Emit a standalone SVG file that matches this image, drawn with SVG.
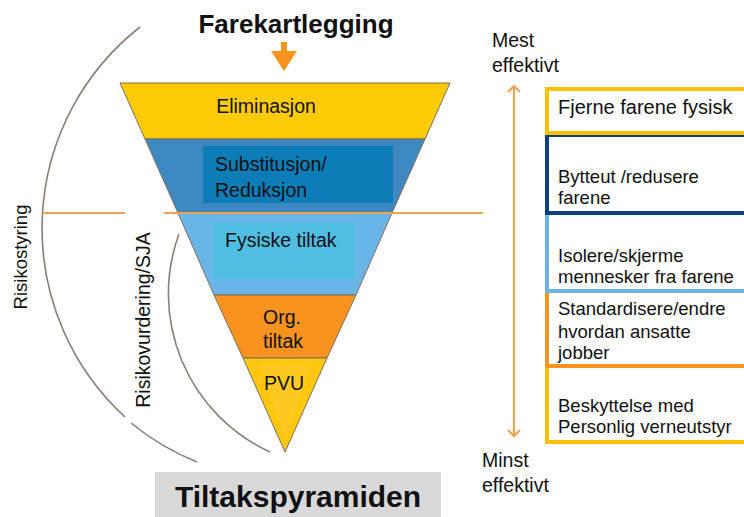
<svg xmlns="http://www.w3.org/2000/svg" width="744" height="517" viewBox="0 0 744 517">
<style>
text{font-family:"Liberation Sans",Arial,sans-serif;fill:#111;}
.t{font-size:19.5px;}
.r{font-size:18.5px;}
.arc{fill:none;stroke:#8a7f76;stroke-width:1.6;}
.edge{stroke:#7a6f5a;stroke-width:1;}
.box{fill:#fff;stroke-width:4;}
.oline{stroke:#f3a24c;stroke-width:2;fill:none;}
</style>
<rect width="744" height="517" fill="#fff"/>

<g id="title">
<text x="296" y="33" text-anchor="middle" font-weight="bold" style="font-size:26px">Farekartlegging</text>
<polygon points="281,42 287,42 287,51 297,51 284,71 271,51 281,51" fill="#f7931e"/>
</g>

<g id="arcs">
<path class="arc" d="M140,27 A256,256 0 0 0 125,417"/>
<path class="arc" d="M131,423 A256,256 0 0 0 197,462"/>
<path class="arc" d="M179,234 A174,174 0 0 0 270,452"/>
</g>

<g id="labels-left">
<text class="r" transform="translate(27,257) rotate(-90)" text-anchor="middle">Risikostyring</text>
<text class="t" transform="translate(150,320) rotate(-90)" text-anchor="middle">Risikovurdering/SJA</text>
</g>

<g id="eliminasjon">
<polygon class="edge" points="120,83 450,83 425,139 145,139" fill="#fccb06"/>
<text class="t" x="266" y="113" text-anchor="middle">Eliminasjon</text>
</g>
<g id="substitusjon">
<polygon class="edge" points="145,139 425,139 392,213 178,213" fill="#3d88c0"/>
<rect x="203" y="146" width="190" height="57" fill="#0d7db8"/>
<text class="t" x="215" y="171">Substitusjon/</text>
<text class="t" x="215" y="197">Reduksjon</text>
</g>
<g id="fysiske">
<polygon class="edge" points="178,213 392,213 356,295 214,295" fill="#6ab5e7"/>
<rect x="213" y="223" width="142" height="56" fill="#50bde3"/>
<text class="t" x="225" y="247">Fysiske tiltak</text>
</g>
<g id="org">
<polygon class="edge" points="214,295 356,295 327,358 243,358" fill="#f7931e"/>
<text class="t" x="263" y="324">Org.</text>
<text class="t" x="263" y="348">tiltak</text>
</g>
<g id="pvu">
<polygon class="edge" points="243,358 327,358 285,452" fill="#fdc60f"/>
<polygon points="260,365 311,365 285,440" fill="#fdc920"/>
<text class="t" x="264" y="390">PVU</text>
</g>

<g id="divider">
<line class="oline" x1="44" y1="213" x2="125" y2="213"/>
<line class="oline" x1="164" y1="213" x2="483" y2="213"/>
</g>

<g id="footer">
<rect x="155" y="472" width="286" height="45" fill="#d9d9d9"/>
<text x="298" y="507" text-anchor="middle" font-weight="bold" style="font-size:30px">Tiltakspyramiden</text>
</g>

<g id="scale">
<text class="t" x="492" y="47">Mest</text>
<text class="t" x="492" y="72">effektivt</text>
<line class="oline" x1="514" y1="86" x2="514" y2="436"/>
<polyline class="oline" points="508,92 514,86 520,92"/>
<polyline class="oline" points="508,430 514,436 520,430"/>
<text class="t" x="482" y="467">Minst</text>
<text class="t" x="482" y="492">effektivt</text>
</g>

<g id="box5">
<rect class="box" x="547" y="366" width="220" height="76" stroke="#ffc000"/>
<text class="r" x="558" y="412">Beskyttelse med</text>
<text class="r" x="558" y="433">Personlig verneutstyr</text>
</g>
<g id="box4">
<rect class="box" x="547" y="291" width="220" height="75" stroke="#f7931e"/>
<text class="r" x="558" y="315">Standardisere/endre</text>
<text class="r" x="558" y="338">hvordan ansatte</text>
<text class="r" x="558" y="359">jobber</text>
</g>
<g id="box3">
<rect class="box" x="547" y="213" width="220" height="78" stroke="#6cb4e4"/>
<text class="r" x="558" y="262">Isolere/skjerme</text>
<text class="r" x="558" y="283">mennesker fra farene</text>
</g>
<g id="box2">
<rect class="box" x="547" y="135" width="220" height="78" stroke="#0d3f7a"/>
<text class="r" x="558" y="183">Bytteut /redusere</text>
<text class="r" x="558" y="204">farene</text>
</g>
<g id="box1">
<rect class="box" x="547" y="89" width="220" height="44" stroke="#ffc000"/>
<text class="r" x="558" y="114" style="font-size:20px">Fjerne farene fysisk</text>
</g>
</svg>
